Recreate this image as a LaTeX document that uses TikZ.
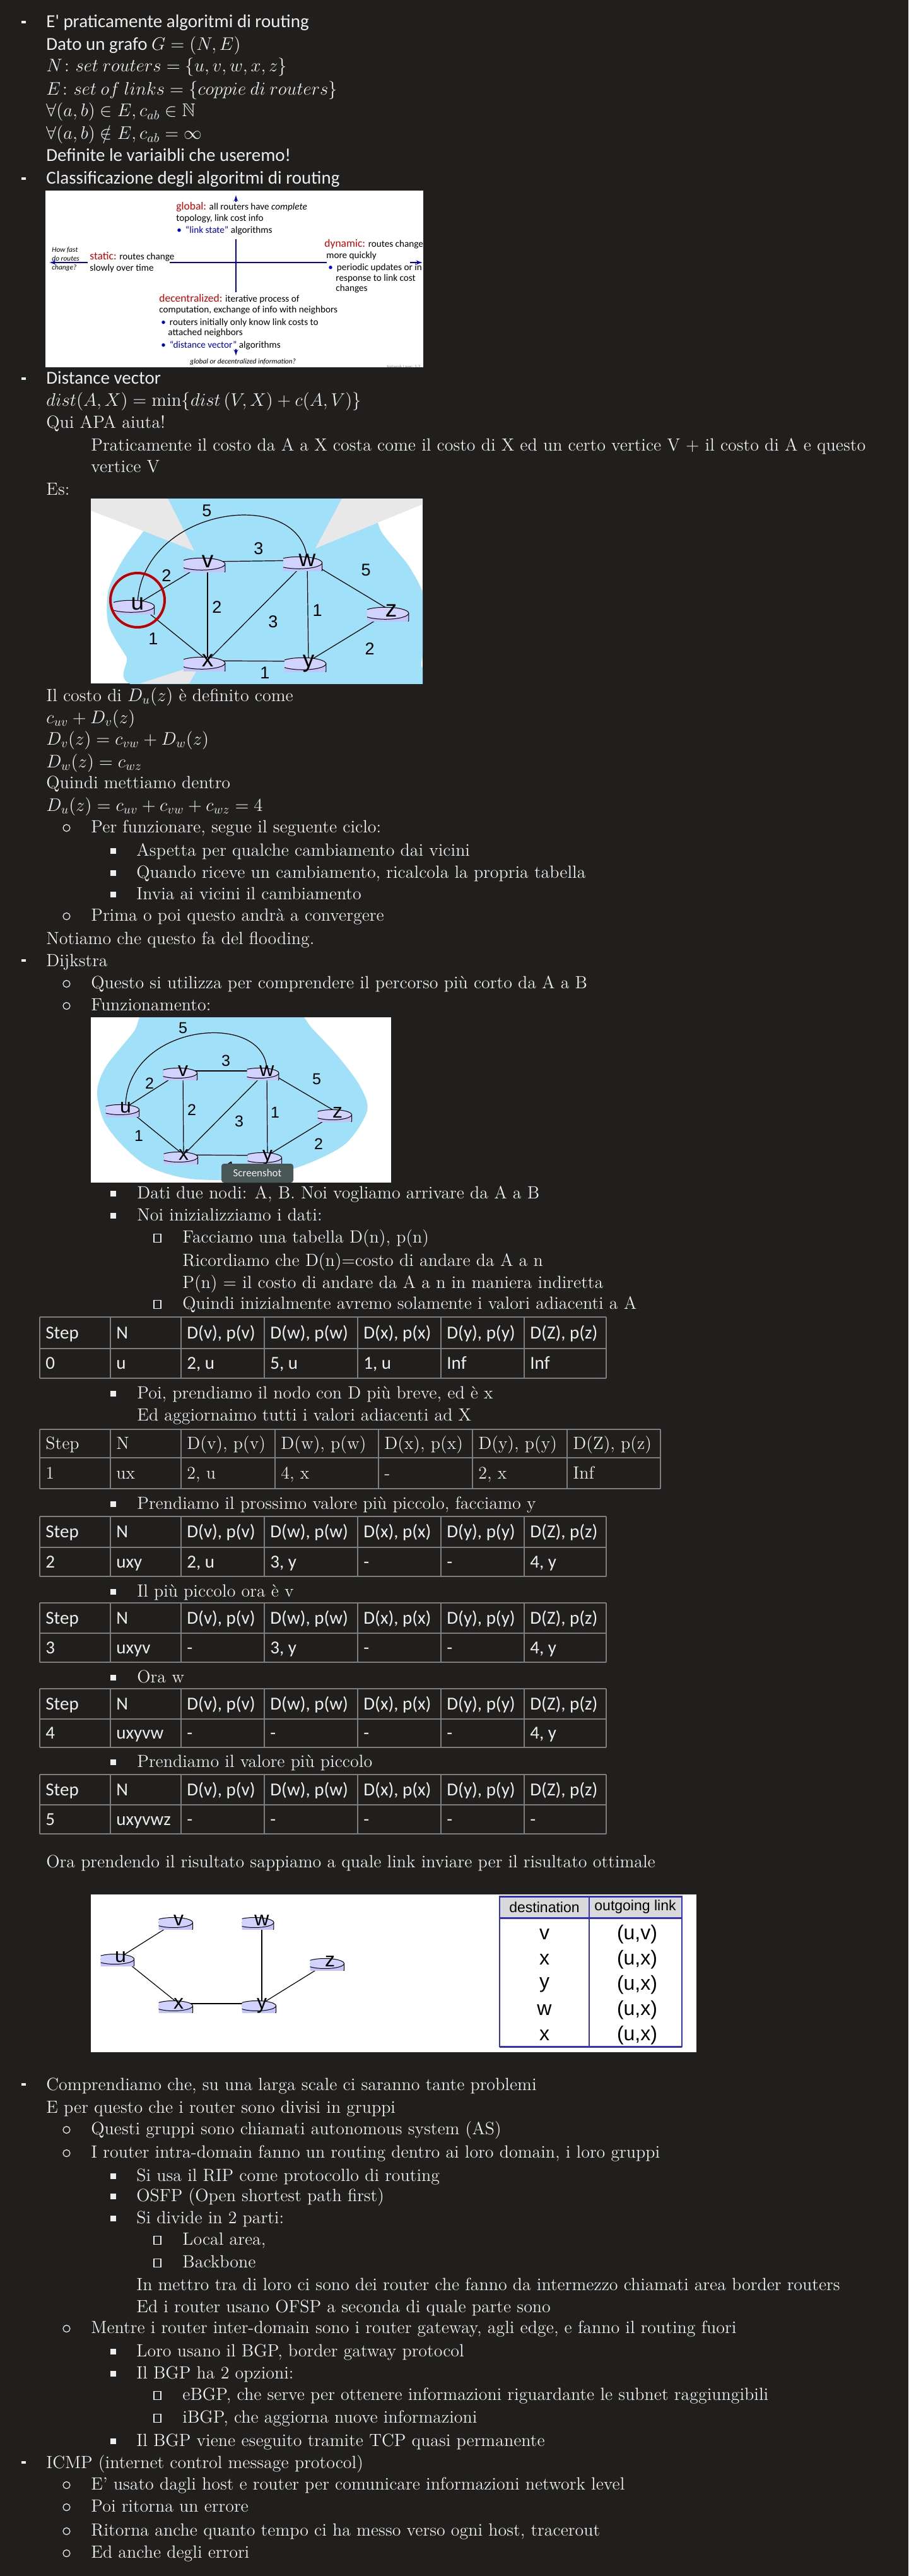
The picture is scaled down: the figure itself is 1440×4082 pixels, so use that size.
\documentclass[tikz,border=0pt]{standalone}
\usepackage{amsmath,amssymb}
\usepackage{fontspec}
\newfontfamily\calibri{Carlito}
\newfontfamily\arialf{Liberation Sans}
\usetikzlibrary{arrows,calc}
\pgfdeclarelayer{back}
\pgfsetlayers{back,main}
\definecolor{page}{RGB}{32,31,29}
\definecolor{ink}{RGB}{238,238,238}
\definecolor{gridgray}{RGB}{125,125,125}
\definecolor{cloud}{RGB}{160,224,248}
\definecolor{wedge}{RGB}{232,232,232}
\definecolor{rtrbody}{RGB}{196,196,250}
\definecolor{rtrtop}{RGB}{210,210,255}
\definecolor{ringred}{RGB}{190,0,0}
\definecolor{cred}{RGB}{204,0,0}
\definecolor{cblue}{RGB}{0,0,204}
\definecolor{tabblue}{RGB}{51,51,187}
\definecolor{tabhead}{RGB}{217,217,217}
\definecolor{tipgray}{RGB}{72,86,86}
\newcommand{\cyl}[3]{% half width, half height, end radius
  \begin{scope}[shift={(path picture bounding box.center)}]
    \filldraw[fill=rtrbody, draw=black, line width=0.5pt]
      (-#1,#2-#3) -- (-#1,-#2+#3) arc[start angle=180, end angle=360, x radius=#1, y radius=#3] -- (#1,#2-#3) -- cycle;
    \filldraw[fill=rtrtop, draw=black, line width=0.5pt] (0,#2-#3) ellipse[x radius=#1, y radius=#3];
  \end{scope}}
\newcommand{\redw}[1]{\textcolor{cred}{\fontsize{8.75}{9}\selectfont #1}}
\tikzset{
    >=latex',
    txt/.style = {
        anchor=west,
        inner sep=0pt,
        text height=9pt,
        text depth=0pt,
        text=ink
    },
    sans/.style = {txt, font=\calibri\fontsize{14.5}{17}\selectfont},
    serif/.style = {txt, font=\fontsize{14}{17}\selectfont},
    cell/.style = {sans},
    scell/.style = {serif},
    grid/.style = {draw=gridgray, line width=1pt},
    chart/.style = {
        anchor=west,
        inner sep=0pt,
        text height=5pt,
        text depth=0pt,
        text=black,
        font=\calibri\fontsize{7.6}{9}\selectfont
    },
    note/.style = {chart, font=\calibri\itshape\fontsize{5.7}{7}\selectfont},
    axis/.style = {draw=cblue, line width=0.8pt},
    link/.style = {draw=black, line width=0.6pt},
    rtrA/.style = {
        rectangle,
        inner sep=0pt,
        minimum width=38pt,
        minimum height=16.5pt,
        text depth=0pt,
        yshift=-1.5pt,
        font=\arialf\fontsize{18.5}{18}\selectfont,
        path picture={\begin{scope}[yshift=1.5pt]\cyl{18.5pt}{7.75pt}{4.75pt}\end{scope}}
    },
    rtrB/.style = {
        rectangle,
        inner sep=0pt,
        minimum width=31.5pt,
        minimum height=14pt,
        text depth=0pt,
        yshift=-1.5pt,
        font=\arialf\fontsize{16}{16}\selectfont,
        path picture={\begin{scope}[yshift=1.5pt]\cyl{15.25pt}{6.5pt}{4pt}\end{scope}}
    },
    costA/.style = {inner sep=0pt, font=\arialf\fontsize{13.5}{14}\selectfont},
    costB/.style = {inner sep=0pt, font=\arialf\fontsize{12.5}{13}\selectfont},
    tabtxt/.style = {inner sep=0pt, font=\arialf\fontsize{11.5}{12}\selectfont},
    tabrow/.style = {inner sep=0pt, font=\arialf\fontsize{16}{16}\selectfont},
}
\begin{document}
\begin{tikzpicture}[x=0.5pt,y=-0.5pt]
\useasboundingbox (0,0) rectangle (1440,4082);
\begin{pgfonlayer}{back}
    \fill[page] (0,0) rectangle (1440,4082);
    \fill[white] (72,302) rectangle (671,582);
    \fill[white] (144,790) rectangle (670,1083);
    \fill[white] (144,1612) rectangle (620,1874);
    \fill[white] (144,3002) rectangle (1104,3252);
    % cloud of the first graph
    \begin{scope}
        \clip (144,790) rectangle (670,1083);
        \fill[cloud] plot[smooth cycle] coordinates {(262,782) (232,835) (196,885) (172,935) (172,990)
            (200,1040) (232,1090) (650,1092) (668,1050) (676,960) (650,900) (606,845) (570,782) (420,770)};
        \fill[wedge] (144,790) -- (266,790) -- (308,873) -- (144,809) -- cycle;
        \fill[wedge] (542,790) -- (670,790) -- (670,799) -- (500,869) -- cycle;
        \fill[wedge] (222,1083) -- (300,1083) -- (318,1052) -- cycle;
    \end{scope}
    % cloud of the second graph
    \begin{scope}
        \clip (144,1612) rectangle (620,1874);
        \fill[cloud] plot[smooth cycle] coordinates {(236,1598) (212,1635) (168,1690) (154,1730) (165,1777)
            (196,1817) (238,1850) (302,1868) (393,1868) (477,1848) (547,1813) (582,1760) (570,1720)
            (535,1673) (495,1630) (462,1598) (350,1588)};
    \end{scope}
\end{pgfonlayer}

% bullets
\foreach \y in {35,283,600,1522,3303,3902}
    \fill[ink] (34,\y-2) rectangle (41,\y+2);
\foreach \y in {1310,1450,1557,1592,3373,3410,3688,3936,3971,4009,4044}
    \draw[ink, line width=0.6pt] (105.5,\y+2) circle[radius=5.5];
\foreach \y in {1347,1382,1416,1890,1925,2207,2382,2521,2657,2791,3447,3479,3514,3725,3760,3867}
    \fill[ink] (175,\y-3.5) rectangle (184,\y+5.5);
\foreach \y in {1960,2065,3548,3584,3794,3830}
    \draw[ink, line width=0.6pt] (244,\y-4.5) rectangle (255,\y+8.5);

% first part
\node[sans] (l1) at (73,35) {E' praticamente algoritmi di routing};
\node[sans] (l2) at (73,71) {Dato un grafo $G=(N,E)$};
\node[sans] (l3) at (73,105) {$N\colon set\ routers=\{u,v,w,x,z\}$};
\node[sans] (l4) at (73,142) {$E\colon set\ of\ links=\{coppie\ di\ routers\}$};
\node[sans] (l5) at (73,176) {$\forall(a,b)\in E, c_{ab}\in\mathbb{N}$};
\node[sans] (l6) at (73,212) {$\forall(a,b)\notin E, c_{ab}=\infty$};
\node[sans] (l7) at (73,247) {Definite le variaibli che useremo!};
\node[sans] (l8) at (73,283) {Classificazione degli algoritmi di routing};

% classification chart
\draw[axis, ->] (374,320) -- (374,309);
\draw[axis] (374,379) -- (374,463);
\draw[axis, ->] (374,553) -- (374,564);
\draw[axis, ->] (139,416) -- (78,416);
\draw[axis] (269,416) -- (518,416);
\draw[axis, ->] (650,416) -- (670,416);
\begin{scope}
    \clip (72,302) rectangle (671,582);
    \node[chart] (c1) at (279,328) {\redw{global:} all routers have \textit{complete}};
    \node[chart] (c2) at (279,346) {topology, link cost info};
    \node[chart] (c3) at (280,365) {\textcolor{cblue}{•}\hspace{3pt}\textcolor{cblue}{“link state”} algorithms};
    \node[note] (c4) at (82,395) {How fast};
    \node[note] (c5) at (82,409) {do routes};
    \node[note] (c6) at (82,423) {change?};
    \node[chart] (c7) at (142,407) {\redw{static:} routes change};
    \node[chart] (c8) at (142,425) {slowly over time};
    \node[chart] (c9) at (514,387) {\redw{dynamic:} routes change};
    \node[chart] (c10) at (517,405) {more quickly};
    \node[chart] (c11) at (520,424) {\textcolor{cblue}{•}\hspace{3pt}periodic updates or in};
    \node[chart] (c12) at (532,441) {response to link cost};
    \node[chart] (c13) at (532,457) {changes};
    \node[chart] (c14) at (252,474) {\redw{decentralized:} iterative process of};
    \node[chart] (c15) at (252,491) {computation, exchange of info with neighbors};
    \node[chart] (c16) at (255,511) {\textcolor{cblue}{•}\hspace{3pt}routers initially only know link costs to};
    \node[chart] (c17) at (266,527) {attached neighbors};
    \node[chart] (c18) at (255,547) {\textcolor{cblue}{•}\hspace{3pt}\textcolor{cblue}{“distance vector”} algorithms};
    \node[note] (c19) at (301,572) {global or decentralized information?};
    \node[chart, text=gray, font=\calibri\fontsize{3.4}{4}\selectfont] (c20) at (613,579) {Network Layer: 5-7};
\end{scope}

% distance vector
\node[sans] (l9) at (73,600) {Distance vector};
\node[sans] (l10) at (73,635) {$dist(A,X)=\min\{dist\,(V,X)+c(A,V)\}$};
\node[serif] (l11) at (73,669) {Qui APA aiuta!};
\node[serif] (l12) at (144,705) {Praticamente il costo da A a X costa come il costo di X ed un certo vertice V + il costo di A e questo};
\node[serif] (l13) at (144,739) {vertice V};
\node[serif] (l14) at (73,775) {Es:};

% first graph
\node[rtrA] (v1) at (329,887) {v};
\node[rtrA] (w1) at (487,885) {w};
\node[rtrA] (u1) at (218,954) {u};
\node[rtrA] (z1) at (620,965) {z};
\node[rtrA] (x1) at (329,1044) {x};
\node[rtrA] (y1) at (489,1045) {y};
\begin{pgfonlayer}{back}
    \path[link] (u1.center) .. controls (225,800) and (480,770) .. (w1.center);
    \foreach \a/\b in {u1/v1,u1/x1,v1/w1,v1/x1,w1/x1,w1/y1,w1/z1,x1/y1,y1/z1}
        \path[link] (\a.center) -- (\b.center);
\end{pgfonlayer}
\node[costA] (k1) at (328,809) {5};
\node[costA] (k2) at (410,869) {3};
\node[costA] (k3) at (264,912) {2};
\node[costA] (k4) at (580,903) {5};
\node[costA] (k5) at (344,962) {2};
\node[costA] (k6) at (433,985) {3};
\node[costA] (k7) at (503,967) {1};
\node[costA] (k8) at (243,1012) {1};
\node[costA] (k9) at (586,1028) {2};
\node[costA] (k10) at (420,1066) {1};
\node[circle, draw=ringred, line width=2pt, minimum size=43pt, inner sep=0pt] (ring) at (218,951) {};

\node[serif] (l15) at (73,1102) {Il costo di $D_u(z)$ è definito come};
\node[serif] (l16) at (73,1137) {$c_{uv}+D_v(z)$};
\node[serif] (l17) at (73,1171) {$D_v(z)=c_{vw}+D_w(z)$};
\node[serif] (l18) at (73,1207) {$D_w(z)=c_{wz}$};
\node[serif] (l19) at (73,1240) {Quindi mettiamo dentro};
\node[serif] (l20) at (73,1276) {$D_u(z)=c_{uv}+c_{vw}+c_{wz}=4$};
\node[serif] (l21) at (144,1310) {Per funzionare, segue il seguente ciclo:};
\node[serif] (l22) at (216,1347) {Aspetta per qualche cambiamento dai vicini};
\node[serif] (l23) at (216,1382) {Quando riceve un cambiamento, ricalcola la propria tabella};
\node[serif] (l24) at (216,1416) {Invia ai vicini il cambiamento};
\node[serif] (l25) at (144,1450) {Prima o poi questo andrà a convergere};
\node[serif] (l26) at (73,1487) {Notiamo che questo fa del flooding.};
\node[serif] (l27) at (73,1522) {Dijkstra};
\node[serif] (l28) at (144,1557) {Questo si utilizza per comprendere il percorso più corto da A a B};
\node[serif] (l29) at (144,1592) {Funzionamento:};

% second graph
\node[rtrB] (v2) at (290,1694) {v};
\node[rtrB] (w2) at (423,1694) {w};
\node[rtrB] (u2) at (199,1752) {u};
\node[rtrB] (z2) at (535,1760) {z};
\node[rtrB] (x2) at (291,1827) {x};
\node[rtrB] (y2) at (424,1828) {y};
\begin{pgfonlayer}{back}
    \path[link] (u2.center) .. controls (199,1620) and (423,1600) .. (w2.center);
    \foreach \a/\b in {u2/v2,u2/x2,v2/w2,v2/x2,w2/x2,w2/y2,w2/z2,x2/y2,y2/z2}
        \path[link] (\a.center) -- (\b.center);
\end{pgfonlayer}
\node[costB] (m1) at (290,1629) {5};
\node[costB] (m2) at (358,1681) {3};
\node[costB] (m3) at (237,1717) {2};
\node[costB] (m4) at (502,1710) {5};
\node[costB] (m5) at (304,1759) {2};
\node[costB] (m6) at (379,1777) {3};
\node[costB] (m7) at (436,1763) {1};
\node[costB] (m8) at (220,1800) {1};
\node[costB] (m9) at (505,1813) {2};
\node[costB] (m10) at (366,1850) {1};
\node[fill=tipgray, rounded corners=2pt, minimum width=57pt, minimum height=15pt, inner sep=0pt,
    text=white!90!gray, font=\calibri\fontsize{8.5}{9}\selectfont] (shot) at (408,1859) {Screenshot};

\node[serif] (l30) at (217,1890) {Dati due nodi: A, B. Noi vogliamo arrivare da A a B};
\node[serif] (l31) at (217,1925) {Noi inizializziamo i dati:};
\node[serif] (l32) at (289,1960) {Facciamo una tabella D(n), p(n)};
\node[serif] (l33) at (289,1997) {Ricordiamo che D(n)=costo di andare da A a n};
\node[serif] (l34) at (289,2032) {P(n) = il costo di andare da A a n in maniera indiretta};
\node[serif] (l35) at (289,2065) {Quindi inizialmente avremo solamente i valori adiacenti a A};

% step tables
\foreach \t/\ya/\yb/\yc in {0/2087/2137/2184,2/2403/2452/2498,3/2540/2588/2634,4/2676/2724/2769,5/2812/2860/2906}{
    \foreach \cx in {63,175,287,419,567,699,831,961}
        \path[grid] (\cx,\ya) -- (\cx,\yc);
    \foreach \ry in {\ya,\yb,\yc}
        \path[grid] (63,\ry) -- (961,\ry);
    \foreach \cx/\s [count=\j] in {72/Step,184/N,296/{D(v), p(v)},428/{D(w), p(w)},576/{D(x), p(x)},708/{D(y), p(y)},840/{D(Z), p(z)}}
        \node[cell] (t\t-h\j) at (\cx,{(\ya+\yb)/2}) {\s};
}
\foreach \cx in {63,175,287,436,600,749,899,1047}
    \path[grid] (\cx,2265) -- (\cx,2359);
\foreach \ry in {2265,2310,2359}
    \path[grid] (63,\ry) -- (1047,\ry);
\foreach \cx/\s [count=\j] in {72/Step,184/N,296/{D(v), p(v)},445/{D(w), p(w)},609/{D(x), p(x)},758/{D(y), p(y)},908/{D(Z), p(z)}}
    \node[scell] (t1-h\j) at (\cx,2287) {\s};
\foreach \cx/\s [count=\j] in {72/1,184/ux,296/{2, u},445/{4, x},609/-,758/{2, x},908/Inf}
    \node[scell] (t1-r\j) at (\cx,2334) {\s};
\foreach \cx/\s [count=\j] in {72/0,184/u,296/{2, u},428/{5, u},576/{1, u},708/Inf,840/Inf}
    \node[cell] (t0-r\j) at (\cx,2160) {\s};
\foreach \cx/\s [count=\j] in {72/2,184/uxy,296/{2, u},428/{3, y},576/-,708/-,840/{4, y}}
    \node[cell] (t2-r\j) at (\cx,2475) {\s};
\foreach \cx/\s [count=\j] in {72/3,184/uxyv,296/-,428/{3, y},576/-,708/-,840/{4, y}}
    \node[cell] (t3-r\j) at (\cx,2611) {\s};
\foreach \cx/\s [count=\j] in {72/4,184/uxyvw,296/-,428/-,576/-,708/-,840/{4, y}}
    \node[cell] (t4-r\j) at (\cx,2746) {\s};
\foreach \cx/\s [count=\j] in {72/5,184/uxyvwz,296/-,428/-,576/-,708/-,840/-}
    \node[cell] (t5-r\j) at (\cx,2883) {\s};

\node[serif] (l36) at (217,2207) {Poi, prendiamo il nodo con D più breve, ed è x};
\node[serif] (l37) at (217,2242) {Ed aggiornaimo tutti i valori adiacenti ad X};
\node[serif] (l38) at (217,2382) {Prendiamo il prossimo valore più piccolo, facciamo y};
\node[serif] (l39) at (217,2521) {Il più piccolo ora è v};
\node[serif] (l40) at (217,2657) {Ora w};
\node[serif] (l41) at (217,2791) {Prendiamo il valore più piccolo};
\node[serif] (l42) at (73,2950) {Ora prendendo il risultato sappiamo a quale link inviare per il risultato ottimale};

% shortest path tree and forwarding table
\node[rtrB] (v3) at (283,3040) {v};
\node[rtrB] (w3) at (415,3040) {w};
\node[rtrB] (u3) at (191,3098) {u};
\node[rtrB] (z3) at (523,3105) {z};
\node[rtrB] (x3) at (283,3172) {x};
\node[rtrB] (y3) at (415,3172) {y};
\begin{pgfonlayer}{back}
    \foreach \a/\b in {u3/v3,u3/x3,w3/y3,y3/z3}
        \path[link] (\a.center) -- (\b.center);
    \path[link, line width=0.9pt] (x3.center) -- (y3.center);
\end{pgfonlayer}
\fill[tabhead] (792,3005) rectangle (1081,3039);
\draw[tabblue, line width=0.6pt] (792,3005) rectangle (1081,3243) (934,3005) -- (934,3243);
\draw[tabblue, line width=1.5pt] (792,3005) -- (1081,3005) (792,3039) -- (1081,3039) (792,3243) -- (1081,3243);
\node[tabtxt] (dest) at (863,3022) {destination};
\node[tabtxt] (olink) at (1007,3022) {outgoing link};
\foreach \d/\o/\y [count=\i] in {v/{(u,v)}/3065,x/{(u,x)}/3105,y/{(u,x)}/3145,w/{(u,x)}/3185,x/{(u,x)}/3225}{
    \node[tabrow] (d\i) at (863,\y) {\d};
    \node[tabrow] (o\i) at (1010,\y) {\o};
}

% routing hierarchy
\node[serif] (l43) at (73,3303) {Comprendiamo che, su una larga scale ci saranno tante problemi};
\node[serif] (l44) at (73,3339) {E per questo che i router sono divisi in gruppi};
\node[serif] (l45) at (144,3373) {Questi gruppi sono chiamati autonomous system (AS)};
\node[serif] (l46) at (144,3410) {I router intra-domain fanno un routing dentro ai loro domain, i loro gruppi};
\node[serif] (l47) at (216,3447) {Si usa il RIP come protocollo di routing};
\node[serif] (l48) at (216,3479) {OSFP (Open shortest path first)};
\node[serif] (l49) at (216,3514) {Si divide in 2 parti:};
\node[serif] (l50) at (289,3548) {Local area,};
\node[serif] (l51) at (289,3584) {Backbone};
\node[serif] (l52) at (216,3620) {In mettro tra di loro ci sono dei router che fanno da intermezzo chiamati area border routers};
\node[serif] (l53) at (216,3655) {Ed i router usano OFSP a seconda di quale parte sono};
\node[serif] (l54) at (144,3688) {Mentre i router inter-domain sono i router gateway, agli edge, e fanno il routing fuori};
\node[serif] (l55) at (216,3725) {Loro usano il BGP, border gatway protocol};
\node[serif] (l56) at (216,3760) {Il BGP ha 2 opzioni:};
\node[serif] (l57) at (289,3794) {eBGP, che serve per ottenere informazioni riguardante le subnet raggiungibili};
\node[serif] (l58) at (289,3830) {iBGP, che aggiorna nuove informazioni};
\node[serif] (l59) at (216,3867) {Il BGP viene eseguito tramite TCP quasi permanente};
\node[serif] (l60) at (73,3902) {ICMP (internet control message protocol)};
\node[serif] (l61) at (144,3936) {E' usato dagli host e router per comunicare informazioni network level};
\node[serif] (l62) at (144,3971) {Poi ritorna un errore};
\node[serif] (l63) at (144,4009) {Ritorna anche quanto tempo ci ha messo verso ogni host, tracerout};
\node[serif] (l64) at (144,4044) {Ed anche degli errori};
\end{tikzpicture}
\end{document}
